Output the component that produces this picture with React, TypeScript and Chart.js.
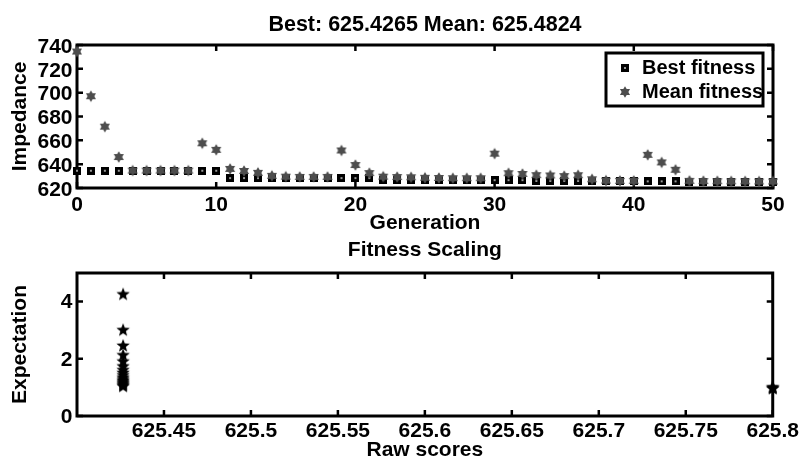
import React, { useEffect, useRef } from 'react';
import { Chart, registerables } from 'chart.js';

Chart.register(...registerables);

// ---------- data ----------
const generations = [
  0, 1, 2, 3, 4, 5, 6, 7, 8, 9, 10, 11, 12, 13, 14, 15, 16, 17, 18, 19, 20,
  21, 22, 23, 24, 25, 26, 27, 28, 29, 30, 31, 32, 33, 34, 35, 36, 37, 38, 39, 40,
  41, 42, 43, 44, 45, 46, 47, 48, 49, 50,
];
const bestFitness = [
  634.5, 634.5, 634.5, 634.5, 634.5, 634.5, 634.5, 634.5, 634.5, 634.5, 634.5,
  628.3, 628.3, 628.3, 628.3, 628.3, 628.3, 628.3, 628.3, 628.3, 628.3, 628.3,
  627.0, 627.0, 627.0, 627.0, 627.0, 627.0, 627.0, 627.0,
  626.6, 626.6, 626.6,
  625.9, 625.9, 625.9, 625.9,
  625.6, 625.6, 625.6, 625.6, 625.6, 625.6, 625.6,
  625.45, 625.45, 625.43, 625.43, 625.43, 625.43, 625.4265,
];
const meanFitness = [
  734.5, 697.0, 671.5, 646.0, 634.6, 634.6, 634.6, 634.6, 634.6, 657.5, 652.0,
  636.0, 634.3, 632.7, 630.2, 629.5, 629.3, 629.3, 629.3, 651.5, 639.3,
  632.5, 629.5, 629.2, 629.0, 628.6, 628.4, 628.2, 628.2, 628.2,
  648.8, 632.4, 631.8, 630.8, 630.5, 630.0, 630.7, 627.3, 626.2, 626.0, 626.0,
  647.8, 641.5, 635.3, 626.0, 625.8, 625.7, 625.6, 625.6, 625.5, 625.4824,
];
const topXTicks = [0, 10, 20, 30, 40, 50];
const topYTicks = [620, 640, 660, 680, 700, 720, 740];

const rawScores = [
  625.4265, 625.4265, 625.4265, 625.4265, 625.4265, 625.4265, 625.4265,
  625.4265, 625.4265, 625.4265, 625.4265, 625.4265, 625.4265, 625.4265,
  625.4265, 625.4265, 625.4265, 625.8, 625.8, 625.8,
];
const expectation = [
  4.25, 3.0, 2.45, 2.12, 1.9, 1.73, 1.6, 1.5, 1.42, 1.34, 1.28, 1.23, 1.18,
  1.14, 1.1, 1.06, 1.03, 1.0, 0.975, 0.95,
];
const bottomXTicks = [625.45, 625.5, 625.55, 625.6, 625.65, 625.7, 625.75, 625.8];
const bottomYTicks = [0, 2, 4];

const topTitle = 'Best: 625.4265 Mean: 625.4824';
const bottomTitle = 'Fitness Scaling';
const legendLabels = ['Best fitness', 'Mean fitness'];

// ---------- styling ----------
const FONT = '"Liberation Sans", Arial, Helvetica, sans-serif';
const MEAN_COLOR = '#4d4d4d';

function makeSquare(side: number) {
  const c = document.createElement('canvas');
  c.width = side;
  c.height = side;
  const g = c.getContext('2d')!;
  g.fillStyle = '#000';
  g.fillRect(0, 0, side, side);
  g.fillStyle = '#9a9a9a';
  const h = side / 2;
  g.fillRect(h - 1, h - 1, 2, 2);
  return c;
}

function makeStar(points: number, r: number, ratio: number, color: string) {
  const s = Math.ceil(r * 2 + 2);
  const c = document.createElement('canvas');
  c.width = s;
  c.height = s;
  const g = c.getContext('2d')!;
  g.fillStyle = color;
  const cx = s / 2;
  const cy = s / 2;
  g.beginPath();
  for (let i = 0; i < points * 2; i++) {
    const ang = -Math.PI / 2 + (i * Math.PI) / points;
    const rr = i % 2 === 0 ? r : r * ratio;
    const px = cx + rr * Math.cos(ang);
    const py = cy + rr * Math.sin(ang);
    if (i === 0) g.moveTo(px, py);
    else g.lineTo(px, py);
  }
  g.closePath();
  g.fill();
  return c;
}

const framePlugin = {
  id: 'matlabFrame',
  beforeDatasetsDraw(chart: any) {
    const { ctx, chartArea, scales } = chart;
    const { left, right, top, bottom } = chartArea;
    const x = scales.x;
    const y = scales.y;
    ctx.save();
    ctx.strokeStyle = '#000';
    ctx.lineWidth = 3;
    ctx.strokeRect(left, top, right - left, bottom - top);
    ctx.lineWidth = 2.5;
    const len = 6;
    ctx.beginPath();
    x.ticks.forEach((t: any) => {
      const px = x.getPixelForValue(t.value);
      ctx.moveTo(px, bottom);
      ctx.lineTo(px, bottom - len);
      ctx.moveTo(px, top);
      ctx.lineTo(px, top + len);
    });
    y.ticks.forEach((t: any) => {
      const py = y.getPixelForValue(t.value);
      ctx.moveTo(left, py);
      ctx.lineTo(left + len, py);
      ctx.moveTo(right, py);
      ctx.lineTo(right - len, py);
    });
    ctx.stroke();
    ctx.restore();
  },
};

function makeLegendPlugin(markers: HTMLCanvasElement[]) {
  return {
    id: 'matlabLegend',
    afterDatasetsDraw(chart: any) {
      const { ctx, chartArea } = chart;
      const w = 157;
      const h = 53;
      const x0 = chartArea.right - 10 - w;
      const y0 = chartArea.top + 8;
      ctx.save();
      ctx.fillStyle = '#fff';
      ctx.fillRect(x0, y0, w, h);
      ctx.strokeStyle = '#000';
      ctx.lineWidth = 3;
      ctx.strokeRect(x0, y0, w, h);
      ctx.font = `bold 20px ${FONT}`;
      ctx.fillStyle = '#000';
      ctx.textBaseline = 'middle';
      ctx.textAlign = 'left';
      legendLabels.forEach((label, i) => {
        const ry = y0 + 15 + i * 24;
        const m = markers[i];
        ctx.drawImage(m, x0 + 19 - m.width / 2, ry - m.height / 2);
        ctx.fillText(label, x0 + 36, ry);
      });
      ctx.restore();
    },
  };
}

const tickFont = { family: FONT, size: 21, weight: 'bold' as const };
const titleFont = { family: FONT, size: 21, weight: 'bold' as const };
const mainTitleFont = { family: FONT, size: 21.5, weight: 'bold' as const };

export default function App() {
  const topRef = useRef<HTMLCanvasElement | null>(null);
  const bottomRef = useRef<HTMLCanvasElement | null>(null);

  useEffect(() => {
    const square = makeSquare(8);
    const hexagram = makeStar(6, 5.8, 0.58, MEAN_COLOR);
    const pentagram = makeStar(5, 7, 0.42, '#000');

    const topChart = new Chart(topRef.current!, {
      type: 'scatter',
      data: {
        datasets: [
          {
            label: legendLabels[0],
            data: generations.map((g, i) => ({ x: g, y: bestFitness[i] })),
            pointStyle: square as any,
            pointRadius: 4,
            showLine: false,
            order: 1,
            clip: false as any,
          },
          {
            label: legendLabels[1],
            data: generations.map((g, i) => ({ x: g, y: meanFitness[i] })),
            pointStyle: hexagram as any,
            pointRadius: 5,
            showLine: false,
            order: 0,
            clip: false as any,
          },
        ],
      },
      options: {
        responsive: false,
        animation: false,
        layout: { padding: { left: 0, right: 29, top: 0, bottom: 0 } },
        plugins: {
          legend: { display: false },
          tooltip: { enabled: false },
          title: {
            display: true,
            text: topTitle,
            fullSize: false,
            color: '#000',
            font: mainTitleFont,
            padding: { top: 12.5, bottom: 6.7 },
          },
        },
        scales: {
          x: {
            type: 'linear',
            min: 0,
            max: 50,
            afterBuildTicks: (s: any) => {
              s.ticks = topXTicks.map((v) => ({ value: v }));
            },
            afterFit: (s: any) => {
              s.height = 49;
            },
            grid: { display: false, drawTicks: false },
            border: { display: false },
            ticks: {
              color: '#000',
              font: tickFont,
              padding: 5,
              maxRotation: 0,
              autoSkip: false,
              callback: (v: any) => String(v),
            },
            title: {
              display: true,
              text: 'Generation',
              color: '#000',
              font: titleFont,
              padding: { top: 0, bottom: 1.5 },
            },
          },
          y: {
            type: 'linear',
            min: 620,
            max: 740,
            afterBuildTicks: (s: any) => {
              s.ticks = topYTicks.map((v) => ({ value: v }));
            },
            afterFit: (s: any) => {
              s.width = 77;
            },
            grid: { display: false, drawTicks: false },
            border: { display: false },
            ticks: {
              color: '#000',
              font: tickFont,
              padding: 4.5,
              labelOffset: 2,
              autoSkip: false,
              callback: (v: any) => String(v),
            },
            title: {
              display: true,
              text: 'Impedance',
              color: '#000',
              font: titleFont,
              padding: { top: 8, bottom: 0 },
            },
          },
        },
      },
      plugins: [framePlugin, makeLegendPlugin([square, hexagram])],
    } as any);

    const bottomChart = new Chart(bottomRef.current!, {
      type: 'scatter',
      data: {
        datasets: [
          {
            label: 'Expectation',
            data: rawScores.map((s, i) => ({ x: s, y: expectation[i] })),
            pointStyle: pentagram as any,
            pointRadius: 6,
            showLine: false,
            clip: false as any,
          },
        ],
      },
      options: {
        responsive: false,
        animation: false,
        layout: { padding: { left: 0, right: 29, top: 0, bottom: 0 } },
        plugins: {
          legend: { display: false },
          tooltip: { enabled: false },
          title: {
            display: true,
            text: bottomTitle,
            fullSize: false,
            color: '#000',
            font: titleFont,
            padding: { top: 0.4, bottom: 10.4 },
          },
        },
        scales: {
          x: {
            type: 'linear',
            min: 625.4,
            max: 625.8,
            afterBuildTicks: (s: any) => {
              s.ticks = bottomXTicks.map((v) => ({ value: v }));
            },
            afterFit: (s: any) => {
              s.height = 51;
            },
            grid: { display: false, drawTicks: false },
            border: { display: false },
            ticks: {
              color: '#000',
              font: tickFont,
              padding: 3,
              maxRotation: 0,
              autoSkip: false,
              callback: (v: any) => String(Math.round(Number(v) * 100) / 100),
            },
            title: {
              display: true,
              text: 'Raw scores',
              color: '#000',
              font: titleFont,
              padding: { top: 0, bottom: 4.4 },
            },
          },
          y: {
            type: 'linear',
            min: 0,
            max: 5,
            afterBuildTicks: (s: any) => {
              s.ticks = bottomYTicks.map((v) => ({ value: v }));
            },
            afterFit: (s: any) => {
              s.width = 77;
            },
            grid: { display: false, drawTicks: false },
            border: { display: false },
            ticks: {
              color: '#000',
              font: tickFont,
              padding: 4.5,
              labelOffset: 1,
              autoSkip: false,
              callback: (v: any) => String(v),
            },
            title: {
              display: true,
              text: 'Expectation',
              color: '#000',
              font: titleFont,
              padding: { top: 8, bottom: 0 },
            },
          },
        },
      },
      plugins: [framePlugin],
    } as any);

    return () => {
      topChart.destroy();
      bottomChart.destroy();
    };
  }, []);

  return (
    <div
      style={{
        position: 'fixed',
        left: 0,
        top: 0,
        width: 802,
        height: 460,
        overflow: 'hidden',
        background: '#fff',
      }}
    >
      <canvas
        ref={topRef}
        width={802}
        height={237}
        style={{ position: 'absolute', left: 0, top: 0, display: 'block' }}
      />
      <canvas
        ref={bottomRef}
        width={802}
        height={230}
        style={{ position: 'absolute', left: 0, top: 237, display: 'block' }}
      />
    </div>
  );
}
